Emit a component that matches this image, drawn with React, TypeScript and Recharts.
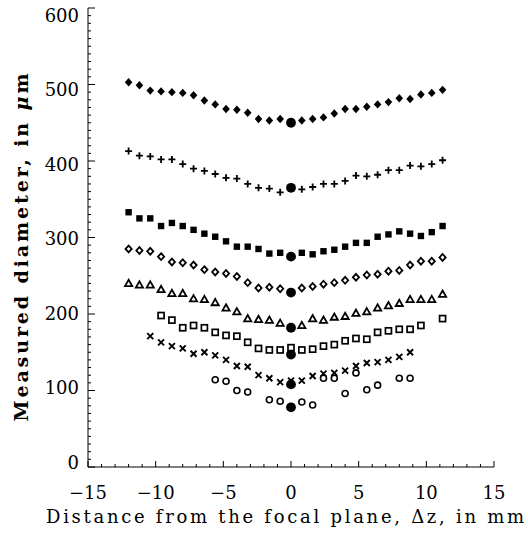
import { ScatterChart, Scatter, XAxis, YAxis, Label } from "recharts"

// positions along the optical axis (mm), shared by every series
const xPositions = [-12, -11.2, -10.4, -9.6, -8.8, -8, -7.2, -6.4, -5.6, -4.8, -4, -3.2, -2.4, -1.6, -0.8, 0, 0.8, 1.6, 2.4, 3.2, 4, 4.8, 5.6, 6.4, 7.2, 8, 8.8, 9.6, 10.4, 11.2]

// measured diameters (um), null = no point
const filledDiamonds = [503, 499, 492, 491, 490, 489, 486, 479, 474, 468, 467, 463, 455, 453, 455, null, 453, 455, 457, 462, 468, 468, 471, 474, 477, 482, 481, 487, 489, 493]
const plusSigns = [413, 407, 406, 402, 402, 396, 390, 387, 383, 378, 377, 370, 365, 364, 359, null, 363, 366, 370, 370, 374, 381, 380, 382, 388, 388, 394, 393, 396, 401]
const filledSquares = [333, 325, 325, 315, 319, 315, 310, 305, 301, 295, 288, 288, 285, 279, 280, null, 280, 278, 282, 284, 288, 293, 293, 301, 304, 308, 305, 302, 307, 315]
const openDiamonds = [285, 283, 282, 275, 268, 267, 264, 258, 255, 253, 249, 241, 234, 235, 233, null, 234, 236, 239, 241, 244, 248, 251, 252, 256, 257, 264, 269, 269, 274]
const openTriangles = [240, 238, 238, 232, 227, 227, 220, 219, 215, 208, 203, 194, 193, 192, 188, null, 185, 194, 192, 196, 197, 201, 203, 208, 211, 214, 219, 219, 219, 226]
const openSquares = [null, null, null, 198, 192, 182, 185, 182, 176, 172, 171, 163, 155, 153, 153, 156, 153, 154, 158, 160, 165, 168, 167, 176, 178, 180, 180, 185, null, 194]
const crosses = [null, null, 171, 163, 158, 155, 148, 150, 146, 140, 132, 131, 120, 116, 111, 113, 113, 119, 122, 123, 126, 132, 136, 137, 140, 144, 150, null, null, null]
const openCircles = [null, null, null, null, null, null, null, null, 114, 112, 100, 98, null, 88, 86, null, 85, 81, 116, 116, 96, 123, 101, 107, null, 116, 116, null, null, null]

// value at the focal plane for each run
const focalX = [0, 0, 0, 0, 0, 0, 0, 0]
const focalPlane = [450, 365, 275, 228, 182, 147, 108, 78]

const xTickLabels = [-15, -10, -5, 0, 5, 10, 15]
const yTickLabels = [0, 100, 200, 300, 400, 500, 600]

const xTicks: number[] = []
for (let v = -15; v <= 15; v++) xTicks.push(v)
const yTicks: number[] = []
for (let v = 0; v <= 600; v += 10) yTicks.push(v)

const font = "'DejaVu Serif', serif"

const toPoints = (values: (number | null)[]) =>
  values
    .map((v, i) => (v == null ? null : { x: xPositions[i], y: v }))
    .filter(Boolean) as { x: number; y: number }[]

const focalPoints = focalPlane.map((v, i) => ({ x: focalX[i], y: v }))

const fmt = (v: number) => (v < 0 ? `\u2212${Math.abs(v)}` : `${v}`)

// marker shapes
const FilledDiamond = ({ cx, cy }: any) => (
  <path d={`M${cx},${cy - 4.2}L${cx + 3.8},${cy}L${cx},${cy + 4.2}L${cx - 3.8},${cy}Z`} fill="#000" />
)
const Plus = ({ cx, cy }: any) => (
  <path d={`M${cx - 3.5},${cy}H${cx + 3.5}M${cx},${cy - 3.5}V${cy + 3.5}`} stroke="#000" strokeWidth={1.8} />
)
const FilledSquare = ({ cx, cy }: any) => <rect x={cx - 3.2} y={cy - 3.2} width={6.4} height={6.4} fill="#000" />
const OpenDiamond = ({ cx, cy }: any) => (
  <path d={`M${cx},${cy - 3.4}L${cx + 3.1},${cy}L${cx},${cy + 3.4}L${cx - 3.1},${cy}Z`} fill="#fff" stroke="#000" strokeWidth={1.8} />
)
const OpenTriangle = ({ cx, cy }: any) => (
  <path d={`M${cx},${cy - 3.6}L${cx + 3.6},${cy + 2.7}L${cx - 3.6},${cy + 2.7}Z`} fill="#fff" stroke="#000" strokeWidth={1.8} />
)
const OpenSquare = ({ cx, cy }: any) => (
  <rect x={cx - 3} y={cy - 3} width={6} height={6} fill="#fff" stroke="#000" strokeWidth={1.7} />
)
const Cross = ({ cx, cy }: any) => (
  <path d={`M${cx - 3},${cy - 3}L${cx + 3},${cy + 3}M${cx - 3},${cy + 3}L${cx + 3},${cy - 3}`} stroke="#000" strokeWidth={1.9} />
)
const OpenCircle = ({ cx, cy }: any) => <circle cx={cx} cy={cy} r={3} fill="#fff" stroke="#000" strokeWidth={1.6} />
const BigDot = ({ cx, cy }: any) => <circle cx={cx} cy={cy} r={4.9} fill="#000" />

// inward ticks on all four sides, labels only on bottom / left
const BottomTick = ({ x, y, payload }: any) => {
  const major = xTickLabels.includes(payload.value)
  return (
    <g>
      <line x1={x} x2={x} y1={y} y2={y - (major ? 6 : 3)} stroke="#000" />
      {major && (
        <text x={x} y={y + 32} textAnchor="middle" fontSize={18} fontFamily={font} fill="#000">
          {fmt(payload.value)}
        </text>
      )}
    </g>
  )
}
const TopTick = ({ x, y, payload }: any) => {
  const major = xTickLabels.includes(payload.value)
  return <line x1={x} x2={x} y1={y} y2={y + (major ? 6 : 3)} stroke="#000" />
}
const LeftTick = ({ x, y, payload }: any) => {
  const major = yTickLabels.includes(payload.value)
  // the scanned labels sit a little inside the frame at both ends
  const shift = -5 + (12 * payload.value) / 600
  return (
    <g>
      <line x1={x} x2={x + (major ? 7 : 3)} y1={y} y2={y} stroke="#000" />
      {major && (
        <text x={x - 9} y={y + shift} textAnchor="end" dominantBaseline="central" fontSize={18} fontFamily={font} fill="#000">
          {payload.value}
        </text>
      )}
    </g>
  )
}
const RightTick = ({ x, y, payload }: any) => {
  const major = yTickLabels.includes(payload.value)
  return <line x1={x} x2={x - (major ? 7 : 3)} y1={y} y2={y} stroke="#000" />
}

const XTitle = ({ viewBox }: any) => (
  <text
    x={viewBox.x + viewBox.width / 2 - 6}
    y={viewBox.y + 56}
    textAnchor="middle"
    fontSize={18}
    fontFamily={font}
    textLength={478}
    lengthAdjust="spacing"
    fill="#000"
  >
    Distance from the focal plane, Δz, in mm
  </text>
)

const YTitle = ({ viewBox }: any) => {
  const cx = viewBox.x + 21
  const cy = viewBox.y + viewBox.height / 2 + 10
  return (
    <text
      x={cx}
      y={cy}
      transform={`rotate(-90 ${cx} ${cy})`}
      textAnchor="middle"
      dominantBaseline="central"
      fontSize={19}
      fontWeight="bold"
      fontFamily={font}
      textLength={348}
      lengthAdjust="spacing"
      fill="#000"
    >
      Measured diameter, in <tspan fontStyle="italic">μ</tspan>m
    </text>
  )
}

export default function App() {
  return (
    <div style={{ position: "absolute", left: 0, top: 0, background: "#fff" }}>
      <ScatterChart width={528} height={533} margin={{ top: 8, right: 34, bottom: 0, left: 0 }}>
        <XAxis
          xAxisId="bottom"
          type="number"
          dataKey="x"
          domain={[-15, 15]}
          ticks={xTicks}
          interval={0}
          height={66}
          tickSize={0}
          tickMargin={0}
          tickLine={false}
          tick={BottomTick}
          axisLine={{ stroke: "#000" }}
          allowDataOverflow
        >
          <Label content={XTitle} />
        </XAxis>
        <XAxis
          xAxisId="top"
          orientation="top"
          type="number"
          domain={[-15, 15]}
          ticks={xTicks}
          interval={0}
          height={0}
          tickSize={0}
          tickMargin={0}
          tickLine={false}
          tick={TopTick}
          axisLine={{ stroke: "#333" }}
          allowDataOverflow
        />
        <YAxis
          yAxisId="left"
          type="number"
          dataKey="y"
          domain={[0, 600]}
          ticks={yTicks}
          interval={0}
          width={88}
          tickSize={0}
          tickMargin={0}
          tickLine={false}
          tick={LeftTick}
          axisLine={{ stroke: "#000" }}
          allowDataOverflow
        >
          <Label content={YTitle} />
        </YAxis>
        <YAxis
          yAxisId="right"
          orientation="right"
          type="number"
          domain={[0, 600]}
          ticks={yTicks}
          interval={0}
          width={0}
          tickSize={0}
          tickMargin={0}
          tickLine={false}
          tick={RightTick}
          axisLine={{ stroke: "#333" }}
          allowDataOverflow
        />
        <Scatter xAxisId="bottom" yAxisId="left" data={toPoints(filledDiamonds)} shape={FilledDiamond} isAnimationActive={false} />
        <Scatter xAxisId="bottom" yAxisId="left" data={toPoints(plusSigns)} shape={Plus} isAnimationActive={false} />
        <Scatter xAxisId="bottom" yAxisId="left" data={toPoints(filledSquares)} shape={FilledSquare} isAnimationActive={false} />
        <Scatter xAxisId="bottom" yAxisId="left" data={toPoints(openDiamonds)} shape={OpenDiamond} isAnimationActive={false} />
        <Scatter xAxisId="bottom" yAxisId="left" data={toPoints(openTriangles)} shape={OpenTriangle} isAnimationActive={false} />
        <Scatter xAxisId="bottom" yAxisId="left" data={toPoints(openSquares)} shape={OpenSquare} isAnimationActive={false} />
        <Scatter xAxisId="bottom" yAxisId="left" data={toPoints(crosses)} shape={Cross} isAnimationActive={false} />
        <Scatter xAxisId="bottom" yAxisId="left" data={toPoints(openCircles)} shape={OpenCircle} isAnimationActive={false} />
        <Scatter xAxisId="bottom" yAxisId="left" data={focalPoints} shape={BigDot} isAnimationActive={false} />
      </ScatterChart>
    </div>
  )
}
